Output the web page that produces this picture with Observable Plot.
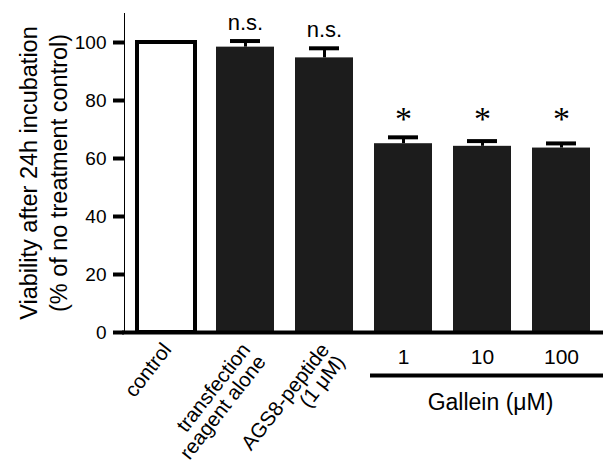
<!DOCTYPE html>
<html>
<head>
<meta charset="utf-8">
<script src="https://cdn.jsdelivr.net/npm/d3@7"></script>
<script src="https://cdn.jsdelivr.net/npm/@observablehq/plot@0.6"></script>
<style>
  html, body { margin: 0; padding: 0; background: #fff; }
  #chart svg [aria-label^="y-axis"] line,
  #chart svg [aria-label^="y-axis"] path { stroke: #000; stroke-width: 4px; stroke-opacity: 1; }
  #chart svg [aria-label^="y-axis"] text { fill: #000; font-size: 19px; }
</style>
</head>
<body>
<div id="chart"></div>
<script>
// ---- data ----
const categories = ["control", "transfection reagent alone", "AGS8-peptide (1 μM)", "1", "10", "100"];
const tickLabels = ["control", "transfection\nreagent alone", "AGS8-peptide\n(1 μM)", "1", "10", "100"];
const viability = [100, 98.4, 94.7, 65.1, 64.2, 63.6];
const errorTop = [null, 100.5, 98.0, 67.3, 66.0, 65.2];
const significance = ["", "n.s.", "n.s.", "*", "*", "*"];
const barFill = ["white", "#1c1c1c", "#1c1c1c", "#1c1c1c", "#1c1c1c", "#1c1c1c"];
const galleinDoses = ["1", "10", "100"];
const galleinLabel = "Gallein (μM)";
const yTicks = [0, 20, 40, 60, 80, 100];
const yTitle = "Viability after 24h incubation\n(% of no treatment control)";

const rows = categories.map((c, i) => ({
  cat: c, label: tickLabels[i], value: viability[i], err: errorTop[i], sig: significance[i], fill: barFill[i]
}));
const rotatedRows = rows.filter(d => !galleinDoses.includes(d.cat));
const doseRows = rows.filter(d => galleinDoses.includes(d.cat));
const errRows = rows.filter(d => d.err != null);
const nsRows = rows.filter(d => d.sig === "n.s.");
const starRows = rows.filter(d => d.sig === "*");

const font = "'Liberation Sans', Arial, Helvetica, sans-serif";

const fig = Plot.plot({
  width: 605,
  height: 469,
  marginLeft: 124,
  marginRight: 2,
  marginTop: 13,
  marginBottom: 137,
  style: { fontFamily: font, fontSize: "19px", background: "white", color: "black", overflow: "visible" },
  x: { domain: categories, paddingInner: 0.27, paddingOuter: 0.135, axis: null },
  y: { domain: [0, 110], ticks: yTicks, tickSize: 11, tickPadding: 7, line: true, label: null },
  marks: [
    Plot.barY(rows, { x: "cat", y: "value", fill: "fill", stroke: "#000", strokeWidth: d => d.cat === "control" ? 4 : 0 }),
    Plot.ruleX(errRows, { x: "cat", y1: "value", y2: "err", stroke: "#000", strokeWidth: 3 }),
    Plot.tickY(errRows, { x: "cat", y: "err", stroke: "#000", strokeWidth: 4, inset: 14 }),
    Plot.ruleY([0], { stroke: "#000", strokeWidth: 4, insetLeft: -2 }),
    Plot.text(nsRows, { x: "cat", y: "err", text: "sig", fontSize: 22, lineAnchor: "bottom", dy: -11 }),
    Plot.text(starRows, { x: "cat", text: "sig", frameAnchor: "top", fontSize: 34, fontFamily: "'Liberation Serif', 'Times New Roman', serif", lineAnchor: "middle", dy: 106 }),
    // x category labels
    Plot.text(rotatedRows, { x: "cat", text: "label", frameAnchor: "bottom", rotate: -52, textAnchor: "end", lineAnchor: "top", lineHeight: 0.95, fontSize: 20.5, dx: -5, dy: 9, ariaLabel: "category labels" }),
    Plot.text(doseRows, { x: "cat", text: "label", frameAnchor: "bottom", lineAnchor: "middle", fontSize: 21, dy: 25 }),
    // Gallein bracket and label
    Plot.ruleY([{ from: galleinDoses[0], to: galleinDoses[galleinDoses.length - 1] }], { x1: "from", x2: "to", y: () => 0, dy: 43, stroke: "#000", strokeWidth: 4, insetLeft: -4, insetRight: -13 }),
    Plot.text([galleinLabel], { x: () => galleinDoses[1], text: d => d, frameAnchor: "bottom", lineAnchor: "middle", fontSize: 23, dx: 8, dy: 70 }),
    // y title
    Plot.text([yTitle], { text: d => d, frameAnchor: "left", rotate: -90, textAnchor: "middle", lineAnchor: "middle", lineHeight: 1.25, fontSize: 23.5, dx: -82 })
  ]
});
document.getElementById("chart").append(fig);

// center the lines of each multi-line rotated label within its block
fig.querySelectorAll('g[aria-label="category labels"] text').forEach(t => {
  const spans = Array.from(t.querySelectorAll("tspan"));
  if (spans.length < 2) return;
  const w = spans.map(s => s.getComputedTextLength());
  const W = Math.max(...w);
  spans.forEach((s, i) => s.setAttribute("x", -(W - w[i]) / 2));
});
</script>
</body>
</html>
